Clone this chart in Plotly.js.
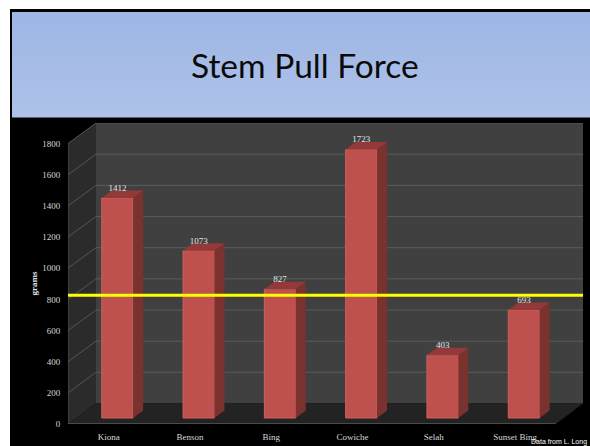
<!DOCTYPE html>
<html>
<head>
<meta charset="utf-8">
<script src="https://cdn.plot.ly/plotly-3.0.1.min.js"></script>
<style>html,body{margin:0;padding:0;background:#fff;overflow:hidden}</style>
</head>
<body>
<div id="chart" style="width:590px;height:446px"></div>
<script>
const categories = ['Kiona', 'Benson', 'Bing', 'Cowiche', 'Selah', 'Sunset Bing'];
const values = [1412, 1073, 827, 1723, 403, 693];
const valueLabels = ['1412', '1073', '827', '1723', '403', '693'];
const yTicks = [0, 200, 400, 600, 800, 1000, 1200, 1400, 1600, 1800];
const referenceLine = 826;

const W = 590, H = 446;
const plot = {l: 68, r: 583, t: 123, b: 424};
const pxPerUnitY = 0.1558;
const pxPerCat = 81.3;
const yMax = (plot.b - plot.t) / pxPerUnitY;
const xMin = -0.5, xMax = xMin + (plot.r - plot.l) / pxPerCat;
const wallDX = 28 / pxPerCat, wallDY = 20.5 / pxPerUnitY;
const barOff = 8.8 / pxPerCat, barBase = 6 / pxPerUnitY;
const barW = 31.4 / pxPerCat, sideDX = 10 / pxPerCat, sideDY = 7.5 / pxPerUnitY;
const labelGap = 9.5 / pxPerUnitY;
const barLeft = -barW / 2 + barOff;
const frontEnd = 5.5;

const paperX = p => (p - plot.l) / (plot.r - plot.l);
const paperY = p => (plot.b - p) / (plot.b - plot.t);
const pathOf = pts => 'M' + pts.map(p => p.join(',')).join('L') + 'Z';

const shapes = [];
function pageRect(x0, y0, x1, y1, color) {
  shapes.push({type: 'rect', xref: 'paper', yref: 'paper', layer: 'below',
    x0: paperX(x0), x1: paperX(x1), y0: paperY(y0), y1: paperY(y1),
    fillcolor: color, line: {width: 0}});
}
pageRect(10, 9, W, H, '#000000');
const bandTop = [157, 182, 228], bandBottom = [174, 194, 233];
const bandSteps = 21, bandY0 = 12, bandY1 = 117;
for (let i = 0; i < bandSteps; i++) {
  const t = i / (bandSteps - 1);
  const c = bandTop.map((a, k) => Math.round(a + (bandBottom[k] - a) * t));
  const h = (bandY1 - bandY0) / bandSteps;
  pageRect(12, bandY0 + i * h, W, bandY0 + (i + 1) * h + 0.5, `rgb(${c})`);
}
function poly(pts, fill, line) {
  shapes.push({type: 'path', xref: 'x', yref: 'y', layer: 'below', path: pathOf(pts),
    fillcolor: fill, line: line ? {color: line, width: 1} : {width: 0}});
}
function seg(x0, y0, x1, y1, color, width) {
  shapes.push({type: 'line', xref: 'x', yref: 'y', layer: 'below', x0, y0, x1, y1,
    line: {color, width}});
}
// back wall, side wall, floor
poly([[xMin + wallDX, wallDY], [xMax, wallDY], [xMax, yMax], [xMin + wallDX, yMax]], '#404040');
poly([[xMin, 0], [xMin + wallDX, wallDY], [xMin + wallDX, yMax], [xMin, 1800]], '#2b2b2b');
poly([[xMin, 0], [xMin + wallDX, wallDY], [xMax, wallDY], [frontEnd, 0]], '#232323');
// gridlines over both walls
yTicks.filter(v => v > 0).forEach(v => {
  seg(xMin, v, xMin + wallDX, v + wallDY, '#565656', 1);
  seg(xMin + wallDX, v + wallDY, xMax, v + wallDY, '#5a5a5a', 1);
});
seg(xMin + wallDX, yMax, xMax, yMax, '#4c4c4c', 1);
seg(xMin, 0, xMin, 1800, '#555555', 1);
seg(xMin, 0, frontEnd, 0, '#5a5a5a', 1.5);

// pseudo-3D faces, computed from the values
const sideX = [], sideY = [], topX = [], topY = [];
values.forEach((v, i) => {
  const x0 = i + barLeft, x1 = x0 + barW, y0 = barBase, y1 = barBase + v;
  sideX.push(x1, x1 + sideDX, x1 + sideDX, x1, x1, null);
  sideY.push(y0, y0 + sideDY, y1 + sideDY, y1, y0, null);
  topX.push(x0, x0 + sideDX, x1 + sideDX, x1, x0, null);
  topY.push(y1, y1 + sideDY, y1 + sideDY, y1, y1, null);
});

const data = [
  {type: 'bar', x: categories.map((c, i) => i), y: values, base: barBase,
   width: barW, offset: barLeft,
   marker: {color: '#BE514D', line: {color: '#CF5F5A', width: 1}}, hoverinfo: 'y'},
  {type: 'scatter', mode: 'lines', x: sideX, y: sideY, fill: 'toself',
   fillcolor: '#7A322F', line: {width: 0}, hoverinfo: 'skip'},
  {type: 'scatter', mode: 'lines', x: topX, y: topY, fill: 'toself',
   fillcolor: '#93393A', line: {width: 0}, hoverinfo: 'skip'},
  {type: 'scatter', mode: 'text', x: categories.map((c, i) => i + barOff),
   y: values.map(v => barBase + v + labelGap), text: valueLabels, textposition: 'middle center',
   textfont: {family: 'Liberation Serif', size: 9, color: '#e4e4e4'}, hoverinfo: 'skip'},
  {type: 'scatter', mode: 'lines', x: [xMin, xMax], y: [referenceLine, referenceLine],
   line: {color: '#FFFF00', width: 3}, hoverinfo: 'skip'}
];

const layout = {
  width: W, height: H, showlegend: false,
  margin: {l: plot.l, r: W - plot.r, t: plot.t, b: H - plot.b, pad: 0},
  paper_bgcolor: '#ffffff', plot_bgcolor: 'rgba(0,0,0,0)',
  xaxis: {type: 'linear', range: [xMin, xMax], tickmode: 'array',
    tickvals: categories.map((c, i) => i), ticktext: categories,
    showgrid: false, zeroline: false, showline: false,
    ticks: 'outside', ticklen: 4, tickcolor: 'rgba(0,0,0,0)',
    tickfont: {family: 'Liberation Serif', size: 9, color: '#d9d9d9'}},
  yaxis: {range: [0, yMax], tickmode: 'array', tickvals: yTicks,
    showgrid: false, zeroline: false, showline: false,
    ticks: 'outside', ticklen: 5, tickcolor: 'rgba(0,0,0,0)',
    tickfont: {family: 'Liberation Serif', size: 9, color: '#d9d9d9'}},
  shapes,
  annotations: [
    {text: 'Stem Pull Force', xref: 'paper', yref: 'paper', x: paperX(305), y: paperY(65),
     xanchor: 'center', yanchor: 'middle', showarrow: false,
     font: {family: 'Lato', size: 33.5, color: '#0a0a0a'}},
    {text: '<b>grams</b>', xref: 'paper', yref: 'paper', x: paperX(33.5), y: paperY(284),
     xanchor: 'center', yanchor: 'middle', textangle: -90, showarrow: false,
     font: {family: 'Liberation Serif', size: 9, color: '#e4e4e4'}},
    {text: 'Data from L. Long', xref: 'paper', yref: 'paper', x: paperX(530), y: paperY(441.5),
     xanchor: 'left', yanchor: 'middle', showarrow: false, borderpad: 0,
     font: {family: 'Liberation Sans', size: 7, color: '#ffffff'}}
  ]
};
Plotly.newPlot('chart', data, layout, {displayModeBar: false, staticPlot: true});
</script>
</body>
</html>
